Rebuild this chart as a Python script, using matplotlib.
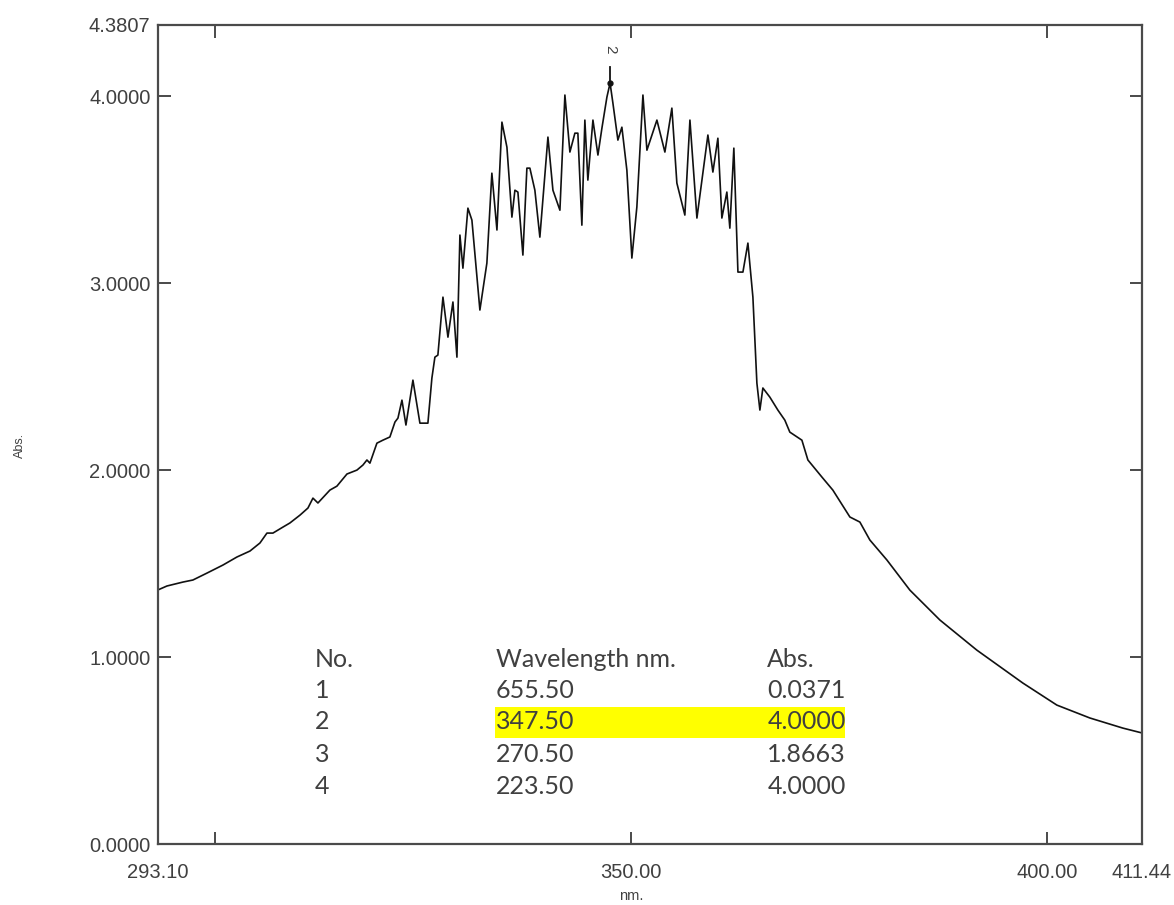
import matplotlib
matplotlib.use("Agg")
import matplotlib.pyplot as plt
from matplotlib.patches import Rectangle

# ---- spectrum data ----
wavelength_nm = [
    293.10, 294.23, 296.15, 297.35, 299.04, 300.96, 302.64, 304.21, 305.41, 306.25,
    306.97, 308.17, 309.01, 310.22, 311.18, 311.78, 312.38, 313.82, 314.66, 315.87,
    317.07, 317.79, 318.27, 318.63, 319.47, 320.19, 321.03, 321.64, 322.00, 322.48,
    322.96, 323.80, 324.64, 325.60, 326.08, 326.44, 326.80, 327.41, 328.01, 328.61,
    329.09, 329.45, 329.81, 330.41, 330.89, 331.85, 332.69, 333.29, 333.90, 334.50,
    335.10, 335.70, 336.06, 336.42, 337.02, 337.50, 337.86, 338.46, 339.06, 340.03,
    340.63, 341.47, 342.07, 342.67, 343.27, 343.63, 344.11, 344.47, 344.83, 345.44,
    346.04, 346.52, 347.12, 347.50, 347.84, 348.44, 348.92, 349.52, 350.12, 350.72,
    351.45, 351.93, 353.13, 354.09, 354.93, 355.53, 356.49, 357.10, 357.94, 359.26,
    359.86, 360.46, 360.94, 361.54, 361.90, 362.38, 362.87, 363.47, 364.07, 364.67,
    365.15, 365.51, 365.87, 366.71, 367.67, 368.51, 369.11, 370.56, 371.28, 372.96,
    374.28, 376.33, 377.53, 378.73, 380.78, 383.54, 387.15, 391.59, 397.12, 401.21,
    405.18, 409.14, 411.44,
]
absorbance = [
    1.358, 1.380, 1.401, 1.412, 1.449, 1.492, 1.535, 1.567, 1.610, 1.663,
    1.663, 1.695, 1.717, 1.759, 1.797, 1.850, 1.824, 1.893, 1.914, 1.979,
    2.000, 2.027, 2.054, 2.037, 2.144, 2.160, 2.177, 2.257, 2.278, 2.374,
    2.241, 2.481, 2.251, 2.251, 2.492, 2.604, 2.615, 2.925, 2.711, 2.899,
    2.604, 3.257, 3.080, 3.401, 3.337, 2.856, 3.107, 3.588, 3.284, 3.861,
    3.727, 3.353, 3.497, 3.487, 3.150, 3.615, 3.615, 3.497, 3.246, 3.781,
    3.497, 3.390, 4.006, 3.701, 3.802, 3.802, 3.310, 3.872, 3.551, 3.872,
    3.685, 3.829, 3.995, 4.070, 3.963, 3.765, 3.834, 3.604, 3.134, 3.407,
    4.006, 3.711, 3.872, 3.701, 3.936, 3.535, 3.364, 3.872, 3.348, 3.792,
    3.594, 3.775, 3.348, 3.487, 3.294, 3.722, 3.059, 3.059, 3.214, 2.925,
    2.465, 2.321, 2.439, 2.390, 2.321, 2.267, 2.203, 2.160, 2.054, 1.963,
    1.893, 1.749, 1.722, 1.626, 1.519, 1.358, 1.198, 1.037, 0.861, 0.743,
    0.674, 0.620, 0.594,
]

# axis ticks
x_min, x_max = 293.10, 411.44
y_min, y_max = 0.0, 4.3807
x_ticks = [293.10, 300.00, 350.00, 400.00, 411.44]
x_tick_labels = ["293.10", "", "350.00", "400.00", "411.44"]
y_ticks = [0.0, 1.0, 2.0, 3.0, 4.0, 4.3807]
y_tick_labels = ["0.0000", "1.0000", "2.0000", "3.0000", "4.0000", "4.3807"]

# peak table
peak_no = ["1", "2", "3", "4"]
peak_wavelength = ["655.50", "347.50", "270.50", "223.50"]
peak_abs = ["0.0371", "4.0000", "1.8663", "4.0000"]
highlight_row = 1
marked_peak_label = "2"
marked_peak_nm = 347.50

fig = plt.figure(figsize=(11.74, 9.05), dpi=100)
ax = fig.add_axes([0.1342, 0.0674, 0.8385, 0.9050])

txt_col = "#404040"
spine_col = "#4a4a4a"

ax.plot(wavelength_nm, absorbance, color="#111111", lw=1.2)

ax.set_xlim(x_min, x_max)
ax.set_ylim(y_min, y_max)
ax.set_xticks(x_ticks)
ax.set_xticklabels(x_tick_labels)
ax.set_yticks(y_ticks)
ax.set_yticklabels(y_tick_labels)

for s in ax.spines.values():
    s.set_color(spine_col)
    s.set_linewidth(1.6)

ax.tick_params(axis="both", direction="in", length=9, width=1.4, color=spine_col,
               top=True, right=True, labelcolor=txt_col, labelsize=14.5,
               labelfontfamily="Liberation Sans")
ax.tick_params(axis="x", pad=14)
ax.tick_params(axis="y", pad=5)

ax.set_xlabel("nm.", x=(350 - x_min) / (x_max - x_min), labelpad=5,
              fontsize=10.5, color=txt_col, family="Liberation Sans")
fig.text(0.017, 0.508, "Abs.", rotation=90, ha="center", va="center",
         fontsize=9, color=txt_col, family="Liberation Sans")

# peak marker
i_pk = wavelength_nm.index(marked_peak_nm)
pk_y = absorbance[i_pk]
ax.plot([marked_peak_nm, marked_peak_nm], [pk_y, pk_y + 0.085], color="#111111", lw=1.3)
ax.plot([marked_peak_nm], [pk_y], marker="o", ms=3.5, color="#111111")
ax.text(marked_peak_nm, pk_y + 0.18, marked_peak_label, rotation=270, ha="center",
        va="center", fontsize=11, color=txt_col, family="Liberation Sans")

# peak table
col_x = [0.160, 0.3438, 0.6195]
row_y = [0.2247, 0.188, 0.149, 0.1087, 0.0696]
headers = ["No.", "Wavelength nm.", "Abs."]
tfont = dict(fontsize=18, color=txt_col, family="Lato", va="center", ha="left",
             transform=ax.transAxes)
ax.add_patch(Rectangle((0.3427, 0.1294), 0.3556, 0.0379, transform=ax.transAxes,
                       facecolor="#ffff00", edgecolor="none", zorder=1))
for c, h in enumerate(headers):
    ax.text(col_x[c], row_y[0], h, **tfont)
for r in range(len(peak_no)):
    y = row_y[r + 1]
    ax.text(col_x[0], y, peak_no[r], **tfont)
    ax.text(col_x[1], y, peak_wavelength[r], **tfont)
    ax.text(col_x[2], y, peak_abs[r], **tfont)

fig.savefig("out.png", dpi=100)
